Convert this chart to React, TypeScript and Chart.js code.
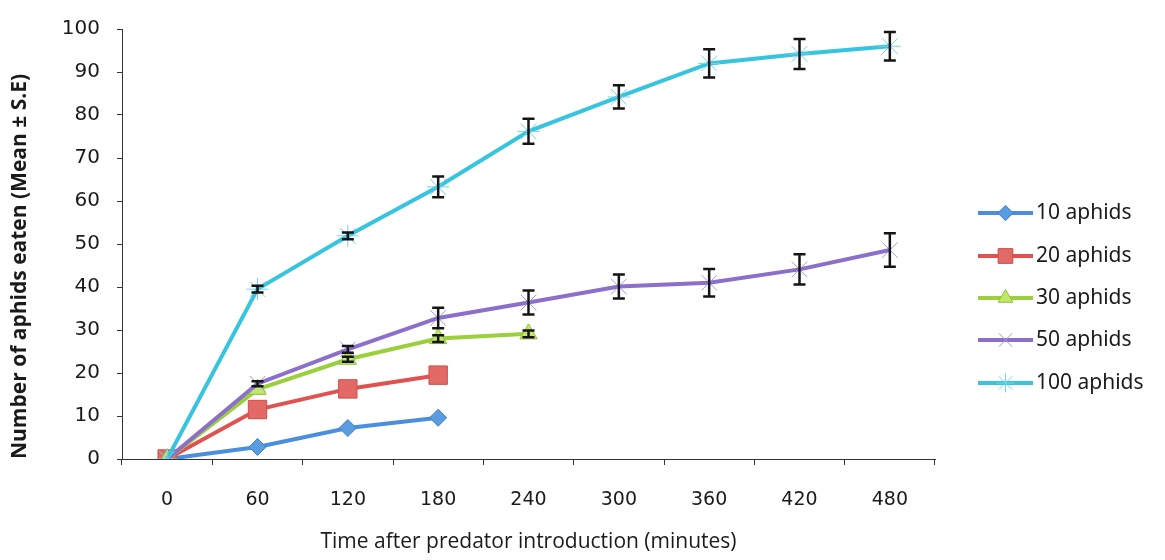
import React, { useEffect, useRef } from 'react';
import { Chart, registerables } from 'chart.js';
import { drawPoint } from 'chart.js/helpers';

Chart.register(...registerables);

const categories = ['0', '60', '120', '180', '240', '300', '360', '420', '480'];
const yTicks = [0, 10, 20, 30, 40, 50, 60, 70, 80, 90, 100];

const names = ['10 aphids', '20 aphids', '30 aphids', '50 aphids', '100 aphids'];

const aphids10 = [0, 2.8, 7.2, 9.6];
const aphids20 = [0, 11.5, 16.3, 19.5];
const aphids30 = [0, 16.2, 23.2, 28.0, 29.1];
const aphids50 = [0, 17.5, 25.5, 32.8, 36.4, 40.1, 41.0, 44.1, 48.6];
const aphids100 = [0, 39.5, 51.9, 63.3, 76.2, 84.2, 92.0, 94.2, 96.0];

const err10 = [0, 0, 0, 0];
const err20 = [0, 0, 0, 0];
const err30 = [0, 0, 0.6, 0.8, 0.8];
const err50 = [0, 0.6, 0.8, 2.4, 2.8, 2.8, 3.2, 3.5, 3.9];
const err100 = [0, 0.8, 0.8, 2.4, 2.9, 2.7, 3.3, 3.5, 3.3];

const seriesValues = [aphids10, aphids20, aphids30, aphids50, aphids100];
const seriesErrors = [err10, err20, err30, err50, err100];

const styles = [
  { line: '#4a8ede', fill: '#5b9be0', border: '#3f7fcf', point: 'rectRot', radius: 8.5, bw: 1 },
  { line: '#e0524f', fill: '#e26a66', border: '#d24c49', point: 'rect', radius: 13, bw: 1 },
  { line: '#9bd03c', fill: '#c4e66a', border: '#8cc33a', point: 'triangle', radius: 10, bw: 1 },
  { line: '#8b6fca', fill: '#8b6fca', border: '#a596de', point: 'crossRot', radius: 11, bw: 1 },
  { line: '#36c4df', fill: '#36c4df', border: '#70d4ea', point: 'star', radius: 11, bw: 1 },
];

const errorBarPlugin = {
  id: 'errorBars',
  afterDatasetsDraw(chart: any) {
    const ctx = chart.ctx;
    const yScale = chart.scales.y;
    chart.data.datasets.forEach((ds: any, i: number) => {
      const meta = chart.getDatasetMeta(i);
      const errs = seriesErrors[i];
      meta.data.forEach((pt: any, j: number) => {
        const e = errs[j];
        if (!e) return;
        const v = ds.data[j];
        const top = yScale.getPixelForValue(v + e);
        const bot = yScale.getPixelForValue(v - e);
        ctx.save();
        ctx.strokeStyle = '#151515';
        ctx.lineWidth = 2.5;
        ctx.beginPath();
        ctx.moveTo(pt.x, top);
        ctx.lineTo(pt.x, bot);
        ctx.moveTo(pt.x - 6, top);
        ctx.lineTo(pt.x + 6, top);
        ctx.moveTo(pt.x - 6, bot);
        ctx.lineTo(pt.x + 6, bot);
        ctx.stroke();
        ctx.restore();
      });
    });
  },
};

const legendPlugin = {
  id: 'customLegend',
  afterDraw(chart: any) {
    const ctx = chart.ctx;
    const x0 = 978;
    const x1 = 1033;
    const ys = [213, 256, 298, 340, 383];
    names.forEach((name, i) => {
      const s = styles[i];
      const y = ys[i];
      ctx.save();
      ctx.strokeStyle = s.line;
      ctx.lineWidth = 4;
      ctx.beginPath();
      ctx.moveTo(x0, y);
      ctx.lineTo(x1, y);
      ctx.stroke();
      ctx.fillStyle = s.fill;
      ctx.strokeStyle = s.border;
      ctx.lineWidth = s.bw;
      const r = s.point === 'rect' ? s.radius * 0.8 : s.point === 'rectRot' ? s.radius * 0.9 : s.radius * 0.85;
      drawPoint(ctx, { pointStyle: s.point, radius: r, borderWidth: s.bw, rotation: 0 }, (x0 + x1) / 2, y);
      ctx.fillStyle = '#1a1a1a';
      ctx.font = '21px "Noto Sans"';
      ctx.textBaseline = 'middle';
      ctx.textAlign = 'left';
      ctx.fillText(name, x1 + 3, y);
      ctx.restore();
    });
  },
};

export default function App() {
  const ref = useRef<HTMLCanvasElement>(null);
  useEffect(() => {
    if (!ref.current) return;
    const datasets = seriesValues.map((vals, i) => ({
      label: names[i],
      data: vals,
      borderColor: styles[i].line,
      backgroundColor: styles[i].fill,
      borderWidth: 4,
      pointStyle: styles[i].point,
      pointRadius: styles[i].radius,
      pointBackgroundColor: styles[i].fill,
      pointBorderColor: styles[i].border,
      pointBorderWidth: styles[i].bw,
      tension: 0,
      order: 5 - i,
    }));
    const chart = new Chart(ref.current, {
      type: 'line',
      data: { labels: categories, datasets },
      plugins: [errorBarPlugin, legendPlugin],
      options: {
        responsive: false,
        animation: false,
        layout: { padding: { top: 23, right: 230, bottom: 0, left: 0 } },
        plugins: { legend: { display: false }, tooltip: { enabled: false } },
        scales: {
          x: {
            type: 'category',
            offset: true,
            grid: { offset: true, drawOnChartArea: false, drawTicks: true, tickLength: 6, color: '#333' },
            border: { display: true, color: '#333', width: 1 },
            ticks: { font: { family: 'DejaVu Sans', size: 19 }, color: '#1a1a1a', padding: 24 },
            title: {
              display: true,
              text: 'Time after predator introduction (minutes)',
              font: { family: 'Open Sans', size: 21 },
              color: '#1a1a1a',
              padding: { top: 0, bottom: 5 },
            },
            afterFit(scale: any) { scale.height = 101; },
          },
          y: {
            min: 0,
            max: 100,
            afterBuildTicks(scale: any) { scale.ticks = yTicks.map((v) => ({ value: v })); },
            grid: { drawOnChartArea: false, drawTicks: true, tickLength: 5, color: '#333' },
            border: { display: true, color: '#333', width: 1 },
            ticks: { font: { family: 'DejaVu Sans', size: 20 }, color: '#1a1a1a', padding: 17 },
            title: {
              display: true,
              text: 'Number of aphids eaten (Mean ± S.E)',
              font: { family: 'Open Sans', size: 21, weight: 'bold' },
              color: '#1a1a1a',
              align: 'start',
              padding: { top: 7, bottom: 0 },
            },
            afterFit(scale: any) { scale.width = 122; },
          },
        },
      },
    } as any);
    return () => chart.destroy();
  }, []);
  return (
    <div style={{ position: 'absolute', left: 0, top: 0, width: 1165, height: 560, background: '#fff' }}>
      <canvas ref={ref} width={1165} height={560} />
    </div>
  );
}
